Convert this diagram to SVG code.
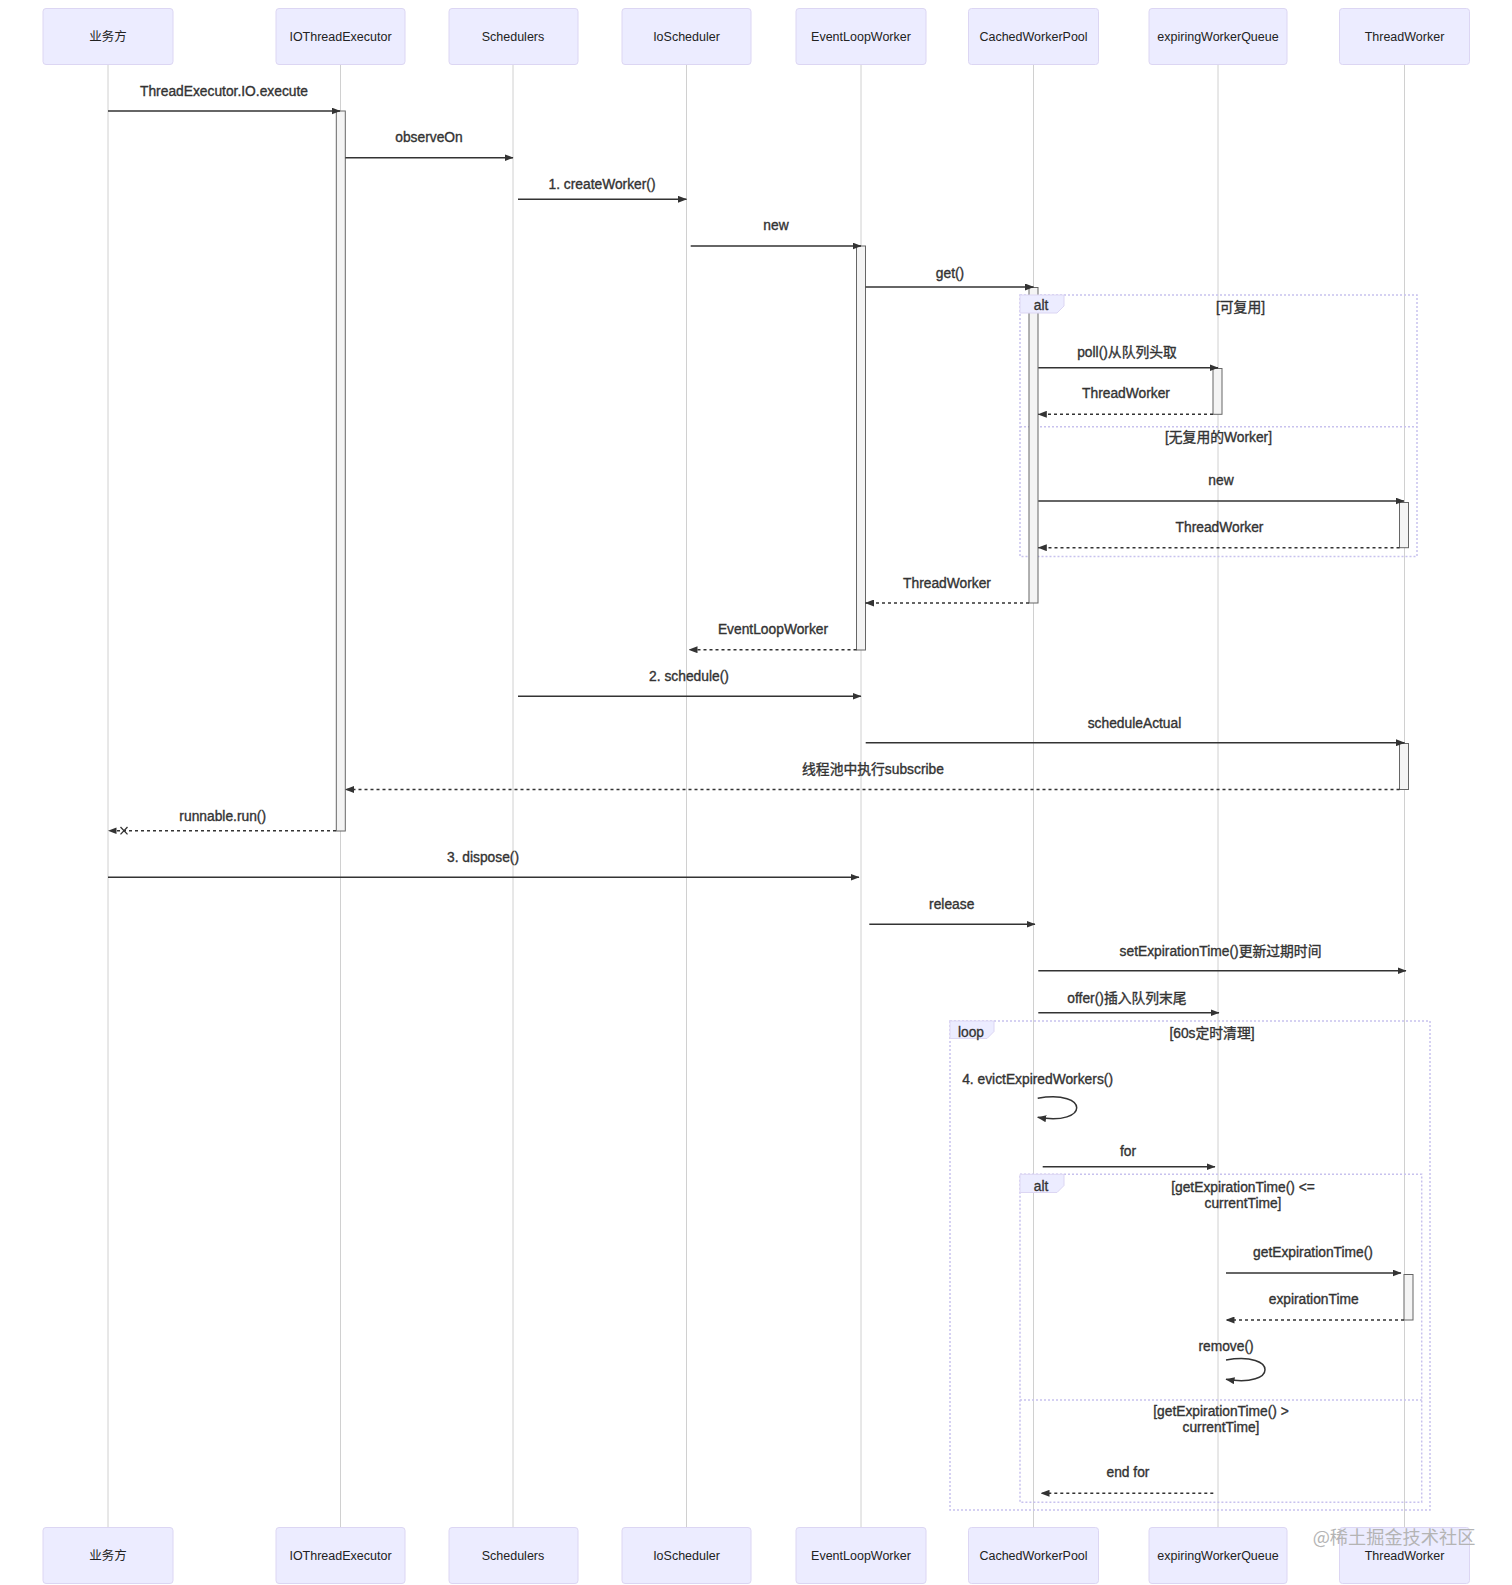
<svg xmlns="http://www.w3.org/2000/svg" width="1512" height="1585" viewBox="0 0 1512 1585">
<defs>
<style>
.actor rect{fill:#ECECFF;stroke:#DCD6F3;stroke-width:1}
.actor text{font-family:"Liberation Sans","Noto Sans CJK SC",sans-serif;font-size:12.5px;fill:#222;text-anchor:middle}
.life{stroke:#d0d0d0;stroke-width:1}
.act{fill:#f4f4f4;stroke:#666;stroke-width:1}
.msg{font-family:"Liberation Sans","Noto Sans CJK SC",sans-serif;font-size:13.8px;fill:#333;stroke:#333;stroke-width:0.35;text-anchor:middle}
.solid{stroke:#333;stroke-width:1.5;fill:none;marker-end:url(#ah)}
.dash{stroke:#333;stroke-width:1.5;fill:none;stroke-dasharray:3,3;marker-end:url(#ah)}
.frame{fill:none;stroke:#C8C2EE;stroke-width:1.5;stroke-dasharray:2,2}
.lbox{fill:#ECECFF;stroke:#DCD6F3;stroke-width:1}
.ltext{font-family:"Liberation Sans",sans-serif;font-size:13.8px;fill:#333;stroke:#333;stroke-width:0.3;text-anchor:middle}
</style>
<marker id="ah" markerUnits="userSpaceOnUse" markerWidth="9" markerHeight="7" refX="8.5" refY="3.5" orient="auto"><path d="M0,0 L9,3.5 L0,7 z" fill="#333"/></marker>
</defs>
<rect width="1512" height="1585" fill="#fff"/>

<g id="lifelines">
<line class="life" x1="108" y1="64.5" x2="108" y2="1527.5"/>
<line class="life" x1="340.5" y1="64.5" x2="340.5" y2="1527.5"/>
<line class="life" x1="513" y1="64.5" x2="513" y2="1527.5"/>
<line class="life" x1="686.5" y1="64.5" x2="686.5" y2="1527.5"/>
<line class="life" x1="861" y1="64.5" x2="861" y2="1527.5"/>
<line class="life" x1="1033.5" y1="64.5" x2="1033.5" y2="1527.5"/>
<line class="life" x1="1218" y1="64.5" x2="1218" y2="1527.5"/>
<line class="life" x1="1404.5" y1="64.5" x2="1404.5" y2="1527.5"/>
</g>

<g id="fragment-frames">
<rect class="frame" x="1020" y="295" width="397" height="261.5"/>
<line class="frame" x1="1020" y1="426.7" x2="1417" y2="426.7"/>
<rect class="frame" x="950" y="1021" width="480" height="489"/>
<rect class="frame" x="1020" y="1174.3" width="401.7" height="328"/>
<line class="frame" x1="1020" y1="1400" x2="1421.7" y2="1400"/>
</g>

<g id="activations">
<rect class="act" x="336.3" y="111" width="9" height="720"/>
<rect class="act" x="856.5" y="246" width="9" height="404"/>
<rect class="act" x="1029" y="287.5" width="9" height="315.5"/>
<rect class="act" x="1213" y="368.5" width="9" height="45.8"/>
<rect class="act" x="1399.5" y="502.5" width="9" height="45.2"/>
<rect class="act" x="1399.5" y="743.5" width="9" height="46"/>
<rect class="act" x="1404" y="1274.5" width="9" height="45.5"/>
</g>

<g id="fragment-labels">
<g id="alt1">
<path class="lbox" d="M1020,295 H1064 V306 L1057,313 H1020 Z"/>
<text class="ltext" x="1041" y="309.5">alt</text>
<text class="msg" x="1240.5" y="311.7">[可复用]</text>
<text class="msg" x="1218.5" y="442.3">[无复用的Worker]</text>
</g>
<g id="loop1">
<path class="lbox" d="M950,1021 H994 V1031.5 L987,1038.5 H950 Z"/>
<text class="ltext" x="971" y="1036.5">loop</text>
<text class="msg" x="1212" y="1037.7">[60s定时清理]</text>
</g>
<g id="alt2">
<path class="lbox" d="M1020,1174.3 H1064 V1185.5 L1057,1192.5 H1020 Z"/>
<text class="ltext" x="1041" y="1190.5">alt</text>
<text class="msg" x="1243" y="1191.7">[getExpirationTime() &lt;=</text>
<text class="msg" x="1243" y="1208.3">currentTime]</text>
<text class="msg" x="1221" y="1416">[getExpirationTime() &gt;</text>
<text class="msg" x="1221" y="1432.3">currentTime]</text>
</g>
</g>

<g id="connectors">
<line class="solid" x1="108" y1="111" x2="340" y2="111"/>
<text class="msg" x="224" y="95.5">ThreadExecutor.IO.execute</text>

<line class="solid" x1="345.3" y1="157.7" x2="513" y2="157.7"/>
<text class="msg" x="429" y="142.2">observeOn</text>

<line class="solid" x1="518" y1="199.3" x2="686.5" y2="199.3"/>
<text class="msg" x="602" y="188.5">1. createWorker()</text>

<line class="solid" x1="690.7" y1="246" x2="861" y2="246"/>
<text class="msg" x="776" y="230">new</text>

<line class="solid" x1="865.5" y1="287" x2="1033.5" y2="287"/>
<text class="msg" x="950" y="277.5">get()</text>

<line class="solid" x1="1038.3" y1="367.7" x2="1218" y2="367.7"/>
<text class="msg" x="1127" y="356.7">poll()从队列头取</text>

<line class="dash" x1="1213" y1="414.3" x2="1038.3" y2="414.3"/>
<text class="msg" x="1126" y="398.3">ThreadWorker</text>

<line class="solid" x1="1038.3" y1="501" x2="1404" y2="501"/>
<text class="msg" x="1221" y="485.3">new</text>

<line class="dash" x1="1399.5" y1="547.7" x2="1038.3" y2="547.7"/>
<text class="msg" x="1219.5" y="532.3">ThreadWorker</text>

<line class="dash" x1="1029" y1="603" x2="865.5" y2="603"/>
<text class="msg" x="947" y="587.7">ThreadWorker</text>

<line class="dash" x1="856.5" y1="649.7" x2="689" y2="649.7"/>
<text class="msg" x="773" y="634.3">EventLoopWorker</text>

<line class="solid" x1="518" y1="696.3" x2="861" y2="696.3"/>
<text class="msg" x="689" y="681">2. schedule()</text>

<line class="solid" x1="865.7" y1="742.7" x2="1404.5" y2="742.7"/>
<text class="msg" x="1134.5" y="727.5">scheduleActual</text>

<line class="dash" x1="1399.5" y1="789.5" x2="345.5" y2="789.5"/>
<text class="msg" x="873" y="774.3">线程池中执行subscribe</text>

<line x1="336" y1="830.7" x2="116" y2="830.7" stroke="#333" stroke-width="1.5" stroke-dasharray="3,3"/>
<path d="M108,830.7 L116.5,827.5 L116.5,834 Z" fill="#333"/>
<path d="M120.5,827 L127.5,834.4 M127.5,827 L120.5,834.4" stroke="#333" stroke-width="1.3" fill="none"/>
<text class="msg" x="222.7" y="821">runnable.run()</text>

<line class="solid" x1="108" y1="877.3" x2="859" y2="877.3"/>
<text class="msg" x="483" y="861.7">3. dispose()</text>

<line class="solid" x1="869.3" y1="924.3" x2="1035" y2="924.3"/>
<text class="msg" x="951.7" y="909">release</text>

<line class="solid" x1="1038.3" y1="970.7" x2="1406" y2="970.7"/>
<text class="msg" x="1220.5" y="956">setExpirationTime()更新过期时间</text>

<line class="solid" x1="1038.3" y1="1012.7" x2="1219" y2="1012.7"/>
<text class="msg" x="1127" y="1002.7">offer()插入队列末尾</text>

<path class="solid" d="M1037.7,1098.3 C1089.7,1089.3 1089.7,1126.3 1037.7,1117.3"/>
<text class="msg" x="1037.6" y="1084.3">4. evictExpiredWorkers()</text>

<line class="solid" x1="1042.7" y1="1166.7" x2="1215" y2="1166.7"/>
<text class="msg" x="1128" y="1156">for</text>

<line class="solid" x1="1226" y1="1273" x2="1401" y2="1273"/>
<text class="msg" x="1313" y="1257.3">getExpirationTime()</text>

<line class="dash" x1="1404" y1="1320" x2="1226" y2="1320"/>
<text class="msg" x="1313.7" y="1304.3">expirationTime</text>

<path class="solid" d="M1226,1360 C1278,1351 1278,1388.3 1226,1379.3"/>
<text class="msg" x="1226" y="1351">remove()</text>

<line class="dash" x1="1213.3" y1="1493.3" x2="1041" y2="1493.3"/>
<text class="msg" x="1128" y="1477.3">end for</text>
</g>

<g id="actor-yewufang-top" class="actor"><rect x="43" y="8.5" width="130" height="56" rx="3"/><text x="108" y="41">业务方</text></g>
<g id="actor-iothreadexecutor-top" class="actor"><rect x="276" y="8.5" width="129" height="56" rx="3"/><text x="340.5" y="41">IOThreadExecutor</text></g>
<g id="actor-schedulers-top" class="actor"><rect x="449" y="8.5" width="129" height="56" rx="3"/><text x="513" y="41">Schedulers</text></g>
<g id="actor-ioscheduler-top" class="actor"><rect x="622" y="8.5" width="129" height="56" rx="3"/><text x="686.5" y="41">IoScheduler</text></g>
<g id="actor-eventloopworker-top" class="actor"><rect x="796" y="8.5" width="130" height="56" rx="3"/><text x="861" y="41">EventLoopWorker</text></g>
<g id="actor-cachedworkerpool-top" class="actor"><rect x="968.5" y="8.5" width="130" height="56" rx="3"/><text x="1033.5" y="41">CachedWorkerPool</text></g>
<g id="actor-expiringworkerqueue-top" class="actor"><rect x="1149" y="8.5" width="138" height="56" rx="3"/><text x="1218" y="41">expiringWorkerQueue</text></g>
<g id="actor-threadworker-top" class="actor"><rect x="1339.5" y="8.5" width="130" height="56" rx="3"/><text x="1404.5" y="41">ThreadWorker</text></g>

<g id="actor-yewufang-bottom" class="actor"><rect x="43" y="1527.5" width="130" height="56" rx="3"/><text x="108" y="1560">业务方</text></g>
<g id="actor-iothreadexecutor-bottom" class="actor"><rect x="276" y="1527.5" width="129" height="56" rx="3"/><text x="340.5" y="1560">IOThreadExecutor</text></g>
<g id="actor-schedulers-bottom" class="actor"><rect x="449" y="1527.5" width="129" height="56" rx="3"/><text x="513" y="1560">Schedulers</text></g>
<g id="actor-ioscheduler-bottom" class="actor"><rect x="622" y="1527.5" width="129" height="56" rx="3"/><text x="686.5" y="1560">IoScheduler</text></g>
<g id="actor-eventloopworker-bottom" class="actor"><rect x="796" y="1527.5" width="130" height="56" rx="3"/><text x="861" y="1560">EventLoopWorker</text></g>
<g id="actor-cachedworkerpool-bottom" class="actor"><rect x="968.5" y="1527.5" width="130" height="56" rx="3"/><text x="1033.5" y="1560">CachedWorkerPool</text></g>
<g id="actor-expiringworkerqueue-bottom" class="actor"><rect x="1149" y="1527.5" width="138" height="56" rx="3"/><text x="1218" y="1560">expiringWorkerQueue</text></g>
<g id="actor-threadworker-bottom" class="actor"><rect x="1339.5" y="1527.5" width="130" height="56" rx="3"/><text x="1404.5" y="1560">ThreadWorker</text></g>

<text x="1394" y="1544" font-family="'Noto Sans CJK SC','Liberation Sans',sans-serif" font-size="18.2" fill="#b4b4b4" text-anchor="middle">@稀土掘金技术社区</text>
</svg>
